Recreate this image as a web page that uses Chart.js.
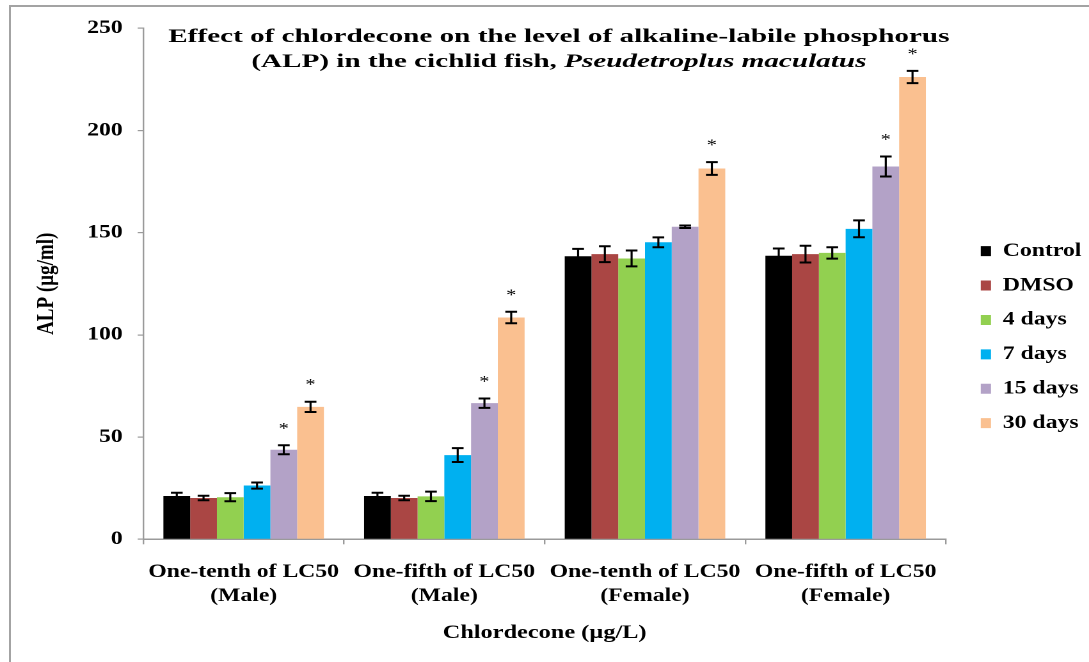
<!DOCTYPE html>
<html>
<head>
<meta charset="utf-8">
<script src="https://cdn.jsdelivr.net/npm/chart.js@4.4.1/dist/chart.umd.min.js"></script>
<style>
  html, body { margin: 0; padding: 0; background: #ffffff; overflow: hidden; }
  #wrap { position: relative; width: 1089px; height: 662px; overflow: hidden; background: #ffffff; }
  #frame { position: absolute; left: 9px; top: 5px; width: 1200px; height: 800px;
           border: 2px solid #a3a3a3; box-sizing: border-box; pointer-events: none; }
  #c { position: absolute; left: 0; top: 0; transform-origin: 0 0; transform: scaleX(1.2797); }
</style>
</head>
<body>
<div id="wrap">
  <canvas id="c" width="851" height="662"></canvas>
  <div id="frame"></div>
</div>
<script>
// Exposure groups (x categories, two-line labels)
const categories = [
  ['One-tenth of LC50', '(Male)'],
  ['One-fifth of LC50', '(Male)'],
  ['One-tenth of LC50', '(Female)'],
  ['One-fifth of LC50', '(Female)']
];

// Series names
const seriesNames = ['Control', 'DMSO', '4 days', '7 days', '15 days', '30 days'];

// ALP (µg/ml), mean per group
const control = [21.2, 21.2, 138.5, 138.7];
const dmso    = [20.2, 20.2, 139.5, 139.5];
const days4   = [20.6, 21.0, 137.4, 140.1];
const days7   = [26.3, 41.2, 145.3, 151.9];
const days15  = [43.8, 66.6, 152.9, 182.4];
const days30  = [64.8, 108.5, 181.4, 226.2];

// Standard error per group
const controlErr = [1.6, 1.6, 3.6, 3.6];
const dmsoErr    = [1.1, 1.1, 3.9, 4.1];
const days4Err   = [2.0, 2.3, 3.9, 2.8];
const days7Err   = [1.5, 3.4, 2.4, 4.1];
const days15Err  = [2.2, 2.3, 0.6, 4.9];
const days30Err  = [2.5, 2.8, 3.1, 3.0];

// Significance markers
const controlSig = ['', '', '', ''];
const dmsoSig    = ['', '', '', ''];
const days4Sig   = ['', '', '', ''];
const days7Sig   = ['', '', '', ''];
const days15Sig  = ['*', '*', '', '*'];
const days30Sig  = ['*', '*', '*', '*'];

// Y axis
const yMin = 0, yMax = 250, yStep = 50;

const titleLine1  = 'Effect of chlordecone on the level of alkaline-labile phosphorus';
const titleLine2a = '(ALP) in the cichlid fish, ';
const titleLine2b = 'Pseudetroplus maculatus';
const yTitle = 'ALP (µg/ml)';
const xTitle = 'Chlordecone (µg/L)';

const colors = ['#000000', '#AA4644', '#92D050', '#00B0F0', '#B3A2C7', '#FAC090'];
const seriesValues = [control, dmso, days4, days7, days15, days30];
const seriesErrors = [controlErr, dmsoErr, days4Err, days7Err, days15Err, days30Err];
const seriesSig    = [controlSig, dmsoSig, days4Sig, days7Sig, days15Sig, days30Sig];

const FONT = '"Liberation Serif", "Times New Roman", serif';
const AXIS_GRAY = '#9a9a9a';

// Error bars and significance asterisks on top of each bar
const errorBarPlugin = {
  id: 'errorBars',
  afterDatasetsDraw(chart) {
    const ctx = chart.ctx;
    const yScale = chart.scales.y;
    ctx.save();
    ctx.strokeStyle = '#000000';
    ctx.fillStyle = '#000000';
    chart.data.datasets.forEach((ds, i) => {
      const meta = chart.getDatasetMeta(i);
      meta.data.forEach((bar, j) => {
        const v = ds.data[j];
        const e = seriesErrors[i][j];
        const yTop = yScale.getPixelForValue(v + e);
        const yBot = yScale.getPixelForValue(v - e);
        const half = 4.6;
        ctx.lineWidth = 1.6;
        ctx.beginPath();
        ctx.moveTo(bar.x, yTop);
        ctx.lineTo(bar.x, yBot);
        ctx.stroke();
        ctx.lineWidth = 2;
        ctx.beginPath();
        ctx.moveTo(bar.x - half, yTop);
        ctx.lineTo(bar.x + half, yTop);
        ctx.moveTo(bar.x - half, yBot);
        ctx.lineTo(bar.x + half, yBot);
        ctx.stroke();
        const mark = seriesSig[i][j];
        if (mark) {
          ctx.font = '16px ' + FONT;
          ctx.textAlign = 'center';
          ctx.textBaseline = 'alphabetic';
          ctx.fillText(mark, bar.x, yTop - 12);
        }
      });
    });
    ctx.restore();
  }
};

// Two-line chart title with the species name in italics
const titlePlugin = {
  id: 'twoLineTitle',
  afterDraw(chart) {
    const ctx = chart.ctx;
    const a = chart.chartArea;
    const cx = a.left + (a.right - a.left) * 0.5177;
    ctx.save();
    ctx.translate(cx, 0);
    ctx.scale(1.2, 1);
    ctx.fillStyle = '#000000';
    ctx.textBaseline = 'alphabetic';
    const fontA = 'bold 19px ' + FONT;
    const fontB = 'italic bold 19px ' + FONT;
    ctx.font = fontA;
    ctx.textAlign = 'center';
    ctx.fillText(titleLine1, 0, 42);
    ctx.textAlign = 'left';
    const wA = ctx.measureText(titleLine2a).width;
    ctx.font = fontB;
    const wB = ctx.measureText(titleLine2b).width;
    const x0 = -(wA + wB) / 2;
    ctx.font = fontA;
    ctx.fillText(titleLine2a, x0, 67);
    ctx.font = fontB;
    ctx.fillText(titleLine2b, x0 + wA, 67);
    ctx.restore();
  }
};

const datasets = seriesNames.map((name, i) => ({
  label: name,
  data: seriesValues[i],
  backgroundColor: colors[i],
  borderWidth: 0,
  xAxisID: 'x',
  yAxisID: 'y'
}));

new Chart(document.getElementById('c'), {
  type: 'bar',
  data: { labels: categories, datasets },
  options: {
    responsive: false,
    animation: false,
    devicePixelRatio: 2,
    layout: { padding: { top: 28.3, left: 15, right: 0, bottom: 16 } },
    datasets: { bar: { categoryPercentage: 0.8, barPercentage: 1.0 } },
    scales: {
      x: {
        grid: { display: true, drawOnChartArea: false, drawTicks: true, tickLength: 5,
                color: AXIS_GRAY, lineWidth: 1.2, offset: true },
        border: { display: true, color: AXIS_GRAY, width: 1.5 },
        ticks: { color: '#000000', padding: 15.7, maxRotation: 0, autoSkip: false,
                 font: { family: FONT, size: 18.5, weight: 'bold', lineHeight: 1.3 } },
        title: { display: true, text: xTitle, color: '#000000',
                 padding: { top: 13, bottom: 1.1 },
                 font: { family: FONT, size: 19, weight: 'bold', lineHeight: 1.25 } },
        afterFit(scale) { scale.height = 106.7; }
      },
      y: {
        min: yMin, max: yMax,
        grid: { display: true, drawOnChartArea: false, drawTicks: true, tickLength: 4.4,
                color: AXIS_GRAY, lineWidth: 1.2 },
        border: { display: true, color: AXIS_GRAY, width: 1.2 },
        ticks: { stepSize: yStep, color: '#000000', padding: 11.7,
                 font: { family: FONT, size: 18.5, weight: 'bold' } },
        title: { display: true, text: yTitle, color: '#000000',
                 padding: { top: 10.3, bottom: 0 },
                 font: { family: FONT, size: 19, weight: 'bold', lineHeight: 1.2 } },
        afterFit(scale) { scale.width = 97; }
      },
      gap: {
        type: 'linear', position: 'right', display: true,
        grid: { display: false }, border: { display: false },
        ticks: { display: false }, title: { display: false },
        afterFit(scale) { scale.width = 11.3; }
      }
    },
    plugins: {
      tooltip: { enabled: false },
      title: { display: false },
      legend: {
        position: 'right',
        fullSize: true,
        maxWidth: 100.5,
        labels: {
          boxWidth: 8, boxHeight: 10, padding: 15.9, color: '#000000',
          font: { family: FONT, size: 18.5, weight: 'bold' }
        }
      }
    }
  },
  plugins: [errorBarPlugin, titlePlugin]
});
</script>
</body>
</html>
